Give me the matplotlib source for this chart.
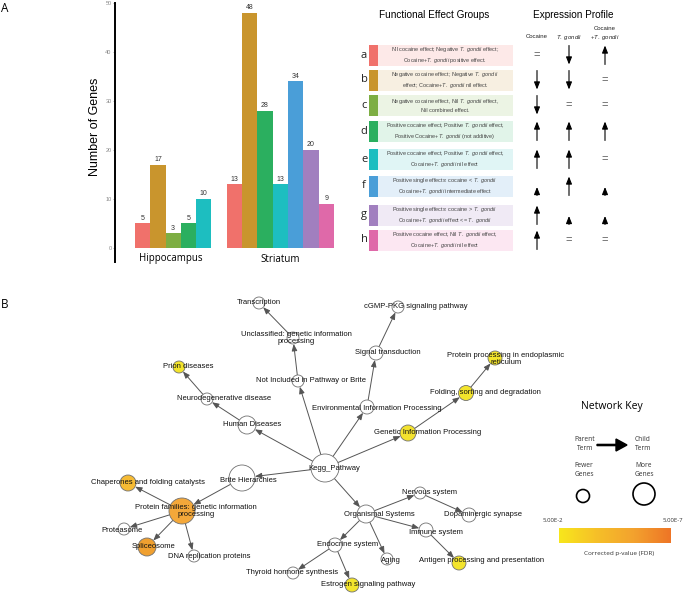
import matplotlib.pyplot as plt
import numpy as np
from matplotlib.patches import Circle, Rectangle
from matplotlib.colors import LinearSegmentedColormap

plt.rcParams['font.family'] = ['Liberation Sans', 'DejaVu Sans']
plt.rcParams['mathtext.fontset'] = 'custom'
plt.rcParams['mathtext.rm'] = 'Liberation Sans'
plt.rcParams['mathtext.it'] = 'Liberation Sans:italic'

W, H = 683, 593
fig = plt.figure(figsize=(W / 100, H / 100), dpi=100)

# ---------------- data: panel A ----------------
group_letters = ['a', 'b', 'c', 'd', 'e', 'f', 'g', 'h']
group_colors = ['#F0716B', '#C9952D', '#7DAE43', '#2BAF5F', '#1DBEC0', '#4A9ED8', '#A17FBF', '#DF69A9']
group_fills = ['#FDE9E8', '#F7EFE1', '#ECF4E4', '#E1F4E9', '#E0F5F5', '#E3EFF9', '#F0EAF5', '#FCE7F2']

regions = ['Hippocampus', 'Striatum']
hippo_groups = ['a', 'b', 'c', 'd', 'e']
hippo_counts = [5, 17, 3, 5, 10]
striatum_groups = ['a', 'b', 'd', 'e', 'f', 'g', 'h']
striatum_counts = [13, 48, 28, 13, 34, 20, 9]

TG = r'$\it{T.\ gondii}$'
group_desc = [
    f'Nil cocaine effect; Negative {TG} effect;\nCocaine+{TG} positive effect.',
    f'Negative cocaine effect; Negative {TG}\neffect; Cocaine+{TG} nil effect.',
    f'Negative cocaine effect, Nil {TG} effect,\nNil combined effect.',
    f'Positive cocaine effect, Positive {TG} effect,\nPositive Cocaine+{TG} (not additive)',
    f'Positive cocaine effect, Positive {TG} effect,\nCocaine+{TG} nil effect',
    f'Positive single effects: cocaine < {TG}\nCocaine+{TG} intermediate effect',
    f'Positive single effects: cocaine > {TG}\nCocaine+{TG} effect <= {TG}',
    f'Positive cocaine effect, Nil {TG} effect,\nCocaine+{TG} nil effect',
]
# U = strong up, u = weak up, D = down, = = no change
cocaine_profile = ['=', 'D', 'D', 'U', 'U', 'u', 'U', 'U']
tgondii_profile = ['D', 'D', '=', 'U', 'U', 'U', 'u', '=']
combined_profile = ['U', '=', '=', 'U', '=', 'u', 'u', '=']

# ---------------- data: panel B ----------------
term_names = ['Kegg_Pathway', 'Human Diseases', 'Neurodegenerative disease', 'Prion diseases',
              'Not Included in Pathway or Brite', 'Unclassified: genetic information\nprocessing',
              'Transcription', 'Environmental Information Processing', 'Signal transduction',
              'cGMP-PKG signaling pathway', 'Genetic Information Processing',
              'Folding, sorting and degradation', 'Protein processing in endoplasmic\nreticulum',
              'Brite Hierarchies', 'Protein families: genetic information\nprocessing',
              'Chaperones and folding catalysts', 'Proteasome', 'Spliceosome',
              'DNA replication proteins', 'Organismal Systems', 'Nervous system',
              'Dopaminergic synapse', 'Immune system', 'Antigen processing and presentation',
              'Endocrine system', 'Thyroid hormone synthesis', 'Estrogen signaling pathway', 'Aging']
term_parent = [None, 0, 1, 2, 0, 4, 5, 0, 7, 8, 0, 10, 11, 0, 13, 14, 14, 14, 14,
               0, 19, 20, 19, 22, 19, 24, 24, 19]
term_size = [14, 9, 6, 6, 6, 6, 6, 7, 7, 6, 8, 7.5, 7, 13, 13, 8, 6, 9, 6, 9, 6, 7, 7, 7, 7, 6, 7, 6]
term_color = ['white', 'white', 'white', '#F3E42C', 'white', 'white', 'white', 'white', 'white',
              'white', '#F3E22E', '#F3E42C', '#F3E42C', 'white', '#F4A83A', '#F6BB34', 'white',
              '#F0A030', 'white', 'white', 'white', 'white', 'white', '#F3E42C', 'white', 'white',
              '#F3E42C', 'white']

# layout (pixel positions of nodes and labels)
node_xy = [(325, 468), (247, 425), (207, 399), (179, 367), (298, 381), (293, 338), (259, 303),
           (367, 407), (376, 353), (398, 307), (408, 433), (466, 393), (495, 358), (242, 478),
           (182, 511), (128, 483), (124, 529), (147, 547), (194, 556), (366, 514), (420, 493),
           (469, 515), (426, 530), (459, 563), (335, 545), (293, 573), (352, 585), (387, 559)]
label_xy = [(334, 468), (252, 425), (224, 399), (188, 367), (311, 381), (296, 338), (259, 302),
            (377, 408), (388, 353), (416, 307), (428, 433), (485, 393), (506, 359), (248, 481),
            (196, 511), (148, 482), (122, 530), (154, 546), (209, 556), (379, 514), (430, 492),
            (483, 514), (436, 533), (482, 561), (348, 545), (292, 573), (368, 585), (391, 560)]

# ================= Panel A: bar chart =================
ax = fig.add_axes([115 / W, 1 - 262 / H, (340 - 115) / W, (262 - 3) / H])
col = dict(zip(group_letters, group_colors))
hx = np.arange(len(hippo_counts))
sx = np.arange(len(striatum_counts)) + len(hippo_counts) + 1
ax.bar(hx, hippo_counts, width=1.0, color=[col[g] for g in hippo_groups], linewidth=0)
ax.bar(sx, striatum_counts, width=1.0, color=[col[g] for g in striatum_groups], linewidth=0)
for x, v in list(zip(hx, hippo_counts)) + list(zip(sx, striatum_counts)):
    ax.text(x, v + 0.3, str(v), ha='center', va='bottom', fontsize=5, color='#333333')
ax.set_xlim(-1.8, 12.9)
ax.set_ylim(-2.9, 50)
ax.set_yticks(range(0, 51, 10))
ax.tick_params(axis='y', labelsize=4, labelcolor='#888888', length=1.5, width=0.5,
               color='#888888', pad=1)
ax.set_xticks([])
for s in ['top', 'right', 'bottom']:
    ax.spines[s].set_visible(False)
ax.spines['left'].set_linewidth(1.4)
ax.patch.set_alpha(0)

# ================= overlay in pixel coordinates =================
ov = fig.add_axes([0, 0, 1, 1])
ov.set_xlim(0, W)
ov.set_ylim(H, 0)
ov.axis('off')
ov.patch.set_alpha(0)

ov.text(1, 9, 'A', fontsize=8.5, family='Open Sans', va='center', ha='left')
ov.text(1, 304, 'B', fontsize=8.5, family='Open Sans', va='center', ha='left')
ov.text(95, 127, 'Number of Genes', rotation=90, fontsize=9, ha='center', va='center')
ov.text(171, 258, regions[0], fontsize=7, family='Open Sans', ha='center', va='center')
ov.text(280, 259, regions[1], fontsize=7, family='Open Sans', ha='center', va='center')

# legend table
ov.text(434, 15, 'Functional Effect Groups', fontsize=7.2, ha='center', va='center')
ov.text(573, 15, 'Expression Profile', fontsize=7.2, ha='center', va='center')
ov.text(537, 37, 'Cocaine', fontsize=4.3, ha='center', va='center', color='#222222')
ov.text(569, 37, TG, fontsize=4.3, ha='center', va='center', color='#222222')
ov.text(605, 34, 'Cocaine\n+' + TG, fontsize=4.3, ha='center', va='center', color='#222222',
        multialignment='center', linespacing=1.3)

row_y = [55, 80, 105, 131, 159, 186, 215, 240]
prof_x = [537, 569, 605]
for i, g in enumerate(group_letters):
    y = row_y[i]
    ov.text(364, y, g, fontsize=8, family='Open Sans', ha='center', va='center', color='#222222')
    ov.add_patch(Rectangle((369, y - 10.5), 9, 21, color=group_colors[i], lw=0))
    ov.add_patch(Rectangle((378, y - 10.5), 135, 21, color=group_fills[i], lw=0))
    ov.text(445, y, group_desc[i], fontsize=4.0, ha='center', va='center', color='#444444',
            multialignment='center', linespacing=1.3)
    for x, code in zip(prof_x, [cocaine_profile[i], tgondii_profile[i], combined_profile[i]]):
        if code == '=':
            ov.text(x, y, '=', fontsize=8, ha='center', va='center', color='#555555')
            continue
        if code == 'U':
            start, end = (x, y + 9.5), (x, y - 9.5)
        elif code == 'u':
            start, end = (x, y + 9.5), (x, y + 1)
        else:
            start, end = (x, y - 9.5), (x, y + 9.5)
        ov.annotate('', xy=end, xytext=start,
                    arrowprops=dict(arrowstyle='-|>,head_length=0.55,head_width=0.22',
                                    mutation_scale=8, lw=0.8, color='black',
                                    shrinkA=0, shrinkB=0))

# ================= Panel B: network =================
pt = 72 / 100
for i, p in enumerate(term_parent):
    if p is None:
        continue
    ov.annotate('', xy=node_xy[i], xytext=node_xy[p],
                arrowprops=dict(arrowstyle='-|>,head_length=0.45,head_width=0.18',
                                mutation_scale=9, lw=0.7, color='#555555',
                                shrinkA=term_size[p] * pt, shrinkB=term_size[i] * pt),
                zorder=1)
for i, name in enumerate(term_names):
    ov.add_patch(Circle(node_xy[i], term_size[i], facecolor=term_color[i],
                        edgecolor='#707070', lw=0.6, zorder=2))
    ov.text(label_xy[i][0], label_xy[i][1], name, fontsize=5.5, ha='center', va='center',
            color='#111111', multialignment='center', linespacing=1.15, zorder=3)

# network key
ov.text(612, 406, 'Network Key', fontsize=7.5, family='Open Sans', ha='center', va='center')
kf = dict(fontsize=4.8, family='Open Sans', ha='center', va='center', color='#333333',
          linespacing=1.3)
ov.text(585, 444, 'Parent\nTerm', **kf)
ov.text(643, 444, 'Child\nTerm', **kf)
ov.text(584, 470, 'Fewer\nGenes', **kf)
ov.text(644, 470, 'More\nGenes', **kf)
ov.arrow(597, 445, 30, 0, width=1.2, head_width=12, head_length=11,
         length_includes_head=True, color='black')
ov.add_patch(Circle((583, 496), 6.5, facecolor='white', edgecolor='black', lw=1.2))
ov.add_patch(Circle((644, 494), 11, facecolor='white', edgecolor='black', lw=1.2))
ov.text(553, 521, '5.00E-2', fontsize=4.3, family='Open Sans', ha='center', va='center', color='#333333')
ov.text(673, 521, '5.00E-7', fontsize=4.3, family='Open Sans', ha='center', va='center', color='#333333')
cmap = LinearSegmentedColormap.from_list('fdr', ['#F8E71C', '#F6C028', '#F3A22E', '#EE7526'])
ov.imshow(np.linspace(0, 1, 256)[None, :], cmap=cmap, aspect='auto',
          extent=[559, 671, 543, 528], zorder=1)
ov.set_xlim(0, W)
ov.set_ylim(H, 0)
ov.text(619, 553, 'Corrected p-value (FDR)', fontsize=4.6, family='Open Sans',
        ha='center', va='center', color='#333333')

fig.savefig('out.png', dpi=100, facecolor='white')
